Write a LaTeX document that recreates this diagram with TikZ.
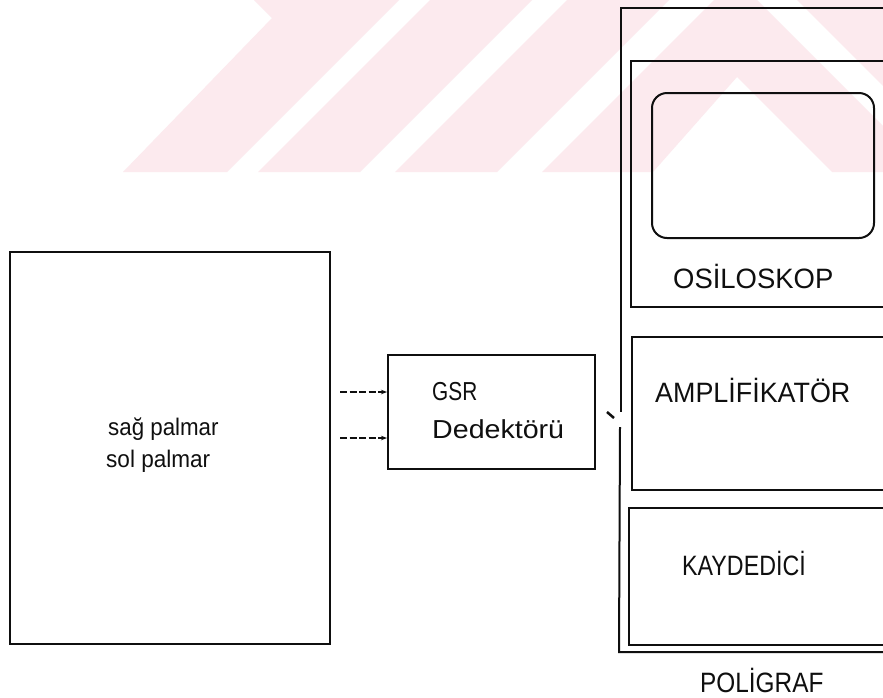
\documentclass[tikz,border=0pt]{standalone}
\usepackage{fontspec}
\setmainfont{Liberation Sans}
\usetikzlibrary{arrows.meta}
\definecolor{wm}{RGB}{252,234,238}
\definecolor{ink}{RGB}{15,15,15}
\tikzset{
  box/.style={line width=2pt, draw=ink},
  lbl/.style={inner sep=0pt, anchor=base west, text=ink},
  big/.style={lbl, font=\fontsize{28}{32}\selectfont},
  mid/.style={lbl, font=\fontsize{26}{30}\selectfont},
  small/.style={lbl, font=\fontsize{24}{28}\selectfont},
  feed/.style={line width=1.4pt, draw=ink, dash pattern=on 7pt off 2.5pt, -{Stealth[length=6pt,width=4.5pt]}}
}
\begin{document}
\begin{tikzpicture}[x=1pt,y=-1pt]
\useasboundingbox (0,0) rectangle (883,697);
\clip (0,0) rectangle (883,697);
\fill[white] (0,0) rectangle (883,697);
% watermark
\begin{scope}
  \clip (0,0) rectangle (883,172);
  \fill[wm] (123,172) -- (272,18) -- (254,0) -- (399,0) -- (227,172) -- cycle;
  \fill[wm] (258,172) -- (430,0) -- (532,0) -- (360,172) -- cycle;
  \fill[wm] (395,172) -- (567,0) -- (669,0) -- (497,172) -- cycle;
  \fill[wm] (542,172) -- (714,0) -- (757,0) -- (929,172) -- (832,172) -- (737,77) -- (653,172) -- cycle;
  \fill[wm] (797,0) -- (900,0) -- (900,103) -- cycle;
\end{scope}
% left box
\draw[box] (10,252) rectangle (330,644);
\node[small] (sag) at (108,435) {\scalebox{0.93}[1]{sağ palmar}};
\node[small] (sol) at (106,467) {\scalebox{0.94}[1]{sol palmar}};
% GSR box
\draw[box] (388,355) rectangle (595,469);
\node[mid] (gsr) at (432,400) {\scalebox{0.8}[1]{GSR}};
\node[mid] (ded) at (432,438) {\scalebox{1.1}[1]{Dedektörü}};
% feed arrows
\coordinate (a1s) at (340,392); \coordinate (a1e) at (387,392);
\coordinate (a2s) at (340,438); \coordinate (a2e) at (387,438);
\draw[feed] (a1s) -- (a1e);
\draw[feed] (a2s) -- (a2e);
% small mark
\coordinate (m1) at (607,412); \coordinate (m2) at (614,418);
\draw[line width=2.5pt, ink] (m1) -- (m2);
% poligraf outer
\draw[box] (900,8) -- (621,8) -- (621,412);
\draw[box] (620,427) -- (619,652) -- (900,652);
% oscilloscope
\draw[box] (900,61) -- (631,61) -- (631,307) -- (900,307);
\draw[box, rounded corners=15pt] (652,93) rectangle (874,238);
\node[big] (osc) at (673,288) {\scalebox{0.98}[1]{OSİLOSKOP}};
% amplifier
\draw[box] (900,337) -- (632,337) -- (632,490) -- (900,490);
\node[big] (amp) at (655,402) {\scalebox{0.96}[1]{AMPLİFİKATÖR}};
% recorder
\draw[box] (900,508) -- (629,508) -- (629,645) -- (900,645);
\node[big] (kay) at (682,575) {\scalebox{0.83}[1]{KAYDEDİCİ}};
\node[big] (pol) at (700,692) {\scalebox{0.87}[1]{POLİGRAF}};
\end{tikzpicture}
\end{document}
